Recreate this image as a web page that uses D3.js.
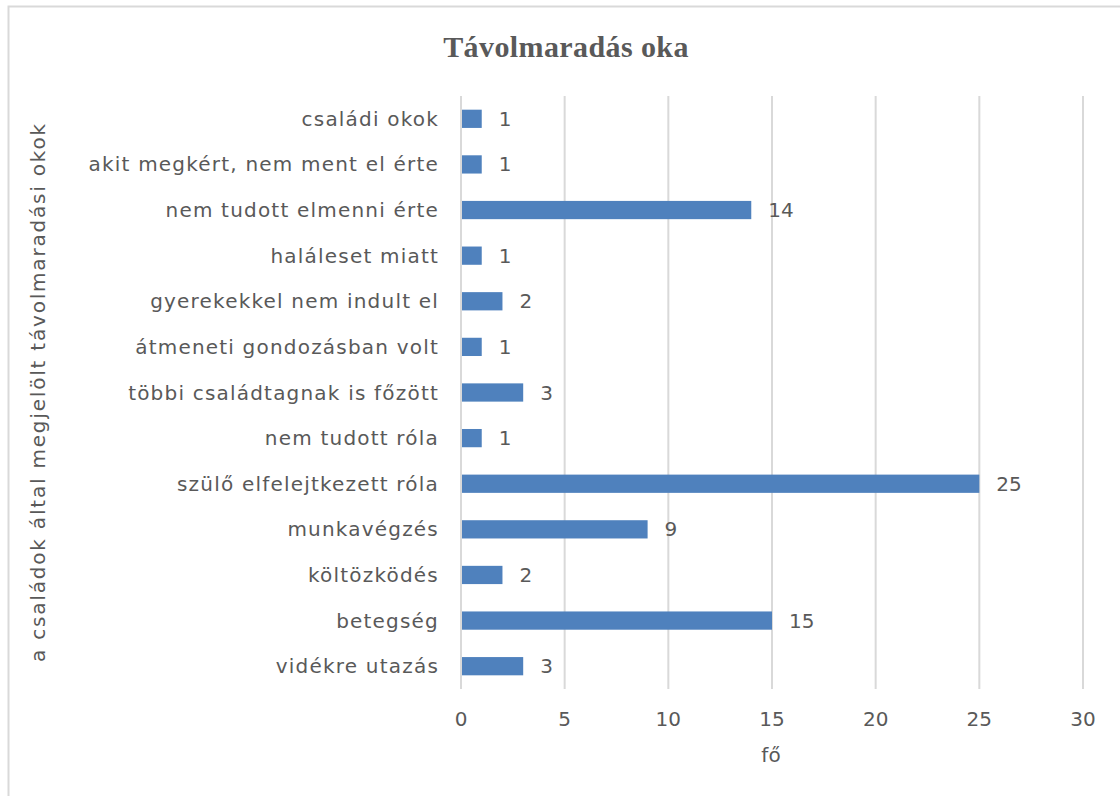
<!DOCTYPE html>
<html><head><meta charset="utf-8">
<script src="https://cdn.jsdelivr.net/npm/d3@7"></script>
<style>html,body{margin:0;padding:0;background:#fff;}</style>
</head><body>
<svg id="c" width="1120" height="796"></svg>
<script>
const categories = ["családi okok","akit megkért, nem ment el érte","nem tudott elmenni érte","haláleset miatt","gyerekekkel nem indult el","átmeneti gondozásban volt","többi családtagnak is főzött","nem tudott róla","szülő elfelejtkezett róla","munkavégzés","költözködés","betegség","vidékre utazás"];
const values = [1,1,14,1,2,1,3,1,25,9,2,15,3];
const xTicks = [0,5,10,15,20,25,30];
const title = "Távolmaradás oka";
const xTitle = "fő";
const yTitle = "a családok által megjelölt távolmaradási okok";

const svg = d3.select("#c");
const font = "'DejaVu Sans', sans-serif";
const textCol = "#595959";

svg.append("rect").attr("x",8.5).attr("y",6.5).attr("width",1120).attr("height",800)
  .attr("fill","#fff").attr("stroke","#d9d9d9").attr("stroke-width",2);

const x = d3.scaleLinear().domain([0,30]).range([461,1083]);
const y = d3.scaleBand().domain(categories).range([96,689]).paddingInner(0.6).paddingOuter(0.3);

// gridlines
svg.append("g").selectAll("line").data(xTicks.filter(d=>d>0)).join("line")
  .attr("x1",d=>x(d)).attr("x2",d=>x(d)).attr("y1",96).attr("y2",689)
  .attr("stroke","#d9d9d9").attr("stroke-width",2);

// bars
svg.append("g").selectAll("rect").data(values).join("rect")
  .attr("x",x(0)).attr("y",(d,i)=>y(categories[i]))
  .attr("width",d=>x(d)-x(0)).attr("height",y.bandwidth())
  .attr("fill","#4f81bd");

// axis line at 0
svg.append("line").attr("x1",x(0)).attr("x2",x(0)).attr("y1",96).attr("y2",689)
  .attr("stroke","#d9d9d9").attr("stroke-width",2);

// y category labels
svg.append("g").selectAll("text").data(categories).join("text")
  .attr("x",439).attr("y",d=>y(d)+y.bandwidth()/2).attr("dy","0.35em")
  .attr("text-anchor","end").attr("font-family",font).attr("font-size",20)
  .attr("letter-spacing",1.2)
  .attr("fill",textCol).text(d=>d);

// value labels
svg.append("g").selectAll("text").data(values).join("text")
  .attr("x",d=>x(d)+17).attr("y",(d,i)=>y(categories[i])+y.bandwidth()/2).attr("dy","0.35em")
  .attr("font-family",font).attr("font-size",20).attr("fill",textCol).text(d=>d);

// x tick labels
svg.append("g").selectAll("text").data(xTicks).join("text")
  .attr("x",d=>x(d)).attr("y",719).attr("dy","0.35em").attr("text-anchor","middle")
  .attr("font-family",font).attr("font-size",20).attr("fill",textCol).text(d=>d);

// x title
svg.append("text").attr("x",771).attr("y",755).attr("dy","0.35em").attr("text-anchor","middle")
  .attr("font-family",font).attr("font-size",20).attr("fill",textCol).text(xTitle);

// y title
svg.append("text").attr("transform","translate(38,392) rotate(-90)").attr("dy","0.35em")
  .attr("text-anchor","middle").attr("font-family",font).attr("font-size",20)
  .attr("letter-spacing",1.8)
  .attr("fill",textCol).text(yTitle);

// title
svg.append("text").attr("x",566).attr("y",46).attr("dy","0.35em").attr("text-anchor","middle")
  .attr("font-family","'Liberation Serif', serif").attr("font-weight","bold").attr("font-size",30)
  .attr("letter-spacing",0.4)
  .attr("fill",textCol).text(title);
</script>
</body></html>
